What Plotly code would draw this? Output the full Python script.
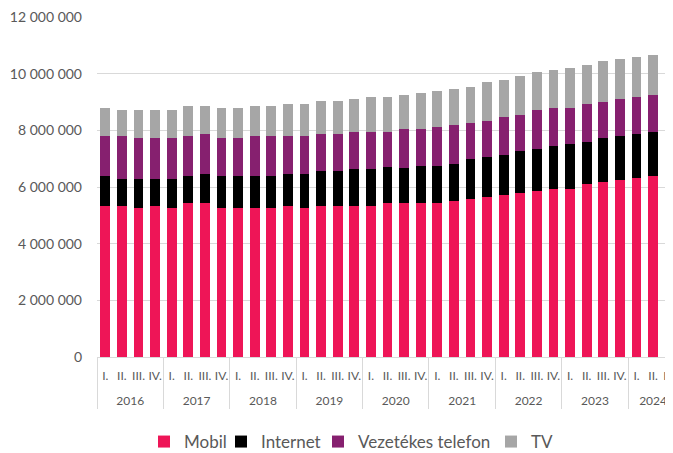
import plotly.graph_objects as go

years = ["2016", "2017", "2018", "2019", "2020", "2021", "2022", "2023", "2024"]
quarters = ["I.", "II.", "III.", "IV."]
n_quarters_last = 3

mobil = [5340, 5340, 5270, 5340, 5270, 5420, 5420, 5270, 5270, 5270, 5270, 5340,
         5270, 5340, 5340, 5340, 5340, 5430, 5430, 5430, 5430, 5500, 5580, 5660,
         5730, 5800, 5870, 5940, 5940, 6100, 6170, 6260, 6330, 6400, 6400]
internet = [1060, 960, 1030, 960, 1030, 980, 1050, 1130, 1130, 1130, 1130, 1130,
            1200, 1210, 1210, 1280, 1280, 1260, 1250, 1320, 1320, 1320, 1410, 1410,
            1410, 1480, 1480, 1490, 1570, 1490, 1570, 1540, 1550, 1550, 1630]
vezetekes = [1400, 1500, 1430, 1430, 1430, 1400, 1410, 1330, 1330, 1400, 1400, 1330,
             1330, 1330, 1330, 1330, 1330, 1260, 1350, 1280, 1360, 1360, 1260, 1250,
             1330, 1270, 1360, 1350, 1270, 1330, 1260, 1290, 1280, 1290, 1210]
tv = [990, 920, 990, 990, 990, 1070, 990, 1060, 1060, 1070, 1070, 1140,
      1140, 1150, 1150, 1150, 1220, 1220, 1210, 1290, 1280, 1280, 1290, 1380,
      1300, 1360, 1360, 1360, 1430, 1380, 1440, 1430, 1430, 1430, 1430]

series_names = ["Mobil", "Internet", "Vezetékes telefon", "TV"]
colors = ["#EE1557", "#000000", "#86206F", "#A6A6A6"]

# the page places the figure 8 px in from the top-left corner
W, H = 665, 445

x_year, x_q = [], []
for i, y in enumerate(years):
    qs = quarters if i < len(years) - 1 else quarters[:n_quarters_last]
    for q in qs:
        x_year.append(y)
        # an empty second line gives the year row the reference's spacing
        x_q.append(q + "<br>\u00a0")

legend_ids = ["legend", "legend2", "legend3", "legend4"]
legend_left = [136, 213, 310, 483]  # px in figure coords

fig = go.Figure()
for name, vals, col, lid in zip(series_names, [mobil, internet, vezetekes, tv], colors, legend_ids):
    fig.add_trace(go.Bar(
        x=[x_year, x_q], y=[v * 1000 for v in vals], name=name,
        marker=dict(color=col, line=dict(width=0)),
        legend=lid,
    ))

legend_common = dict(
    orientation="h", xref="container", yref="container",
    xanchor="left", y=1 - 434 / H, yanchor="middle",
    font=dict(size=17, color="#595959"), itemwidth=30,
    bgcolor="rgba(0,0,0,0)",
)
layout_legends = {}
for lid, lx in zip(legend_ids, legend_left):
    layout_legends[lid] = dict(legend_common, x=lx / W)

fig.update_layout(
    width=W, height=H,
    barmode="stack", bargap=0.42,
    margin=dict(l=89, r=0, t=9, b=96, autoexpand=False),
    plot_bgcolor="white", paper_bgcolor="white",
    separators=", ",
    font=dict(family="Lato, Carlito, Liberation Sans, sans-serif", color="#595959", size=13),
    showlegend=True,
    **layout_legends,
)
fig.update_yaxes(
    range=[0, 12000000], dtick=2000000, tickformat=",d",
    showgrid=True, gridcolor="#D9D9D9", gridwidth=1,
    zeroline=False, showline=False, ticks="",
    tickfont=dict(size=14, color="#595959"), ticklabelstandoff=14,
    ticklabeloverflow="allow", automargin=False,
)
fig.update_xaxes(
    type="multicategory", range=[-0.5, 34.2],
    showline=True, linecolor="#D9D9D9", linewidth=1,
    showdividers=True, dividercolor="#D9D9D9", dividerwidth=1,
    tickangle=0, tickfont=dict(size=12, color="#595959"), ticks="",
    ticklabelstandoff=8, ticklabeloverflow="allow", automargin=False,
)

fig.write_html("out.html")
